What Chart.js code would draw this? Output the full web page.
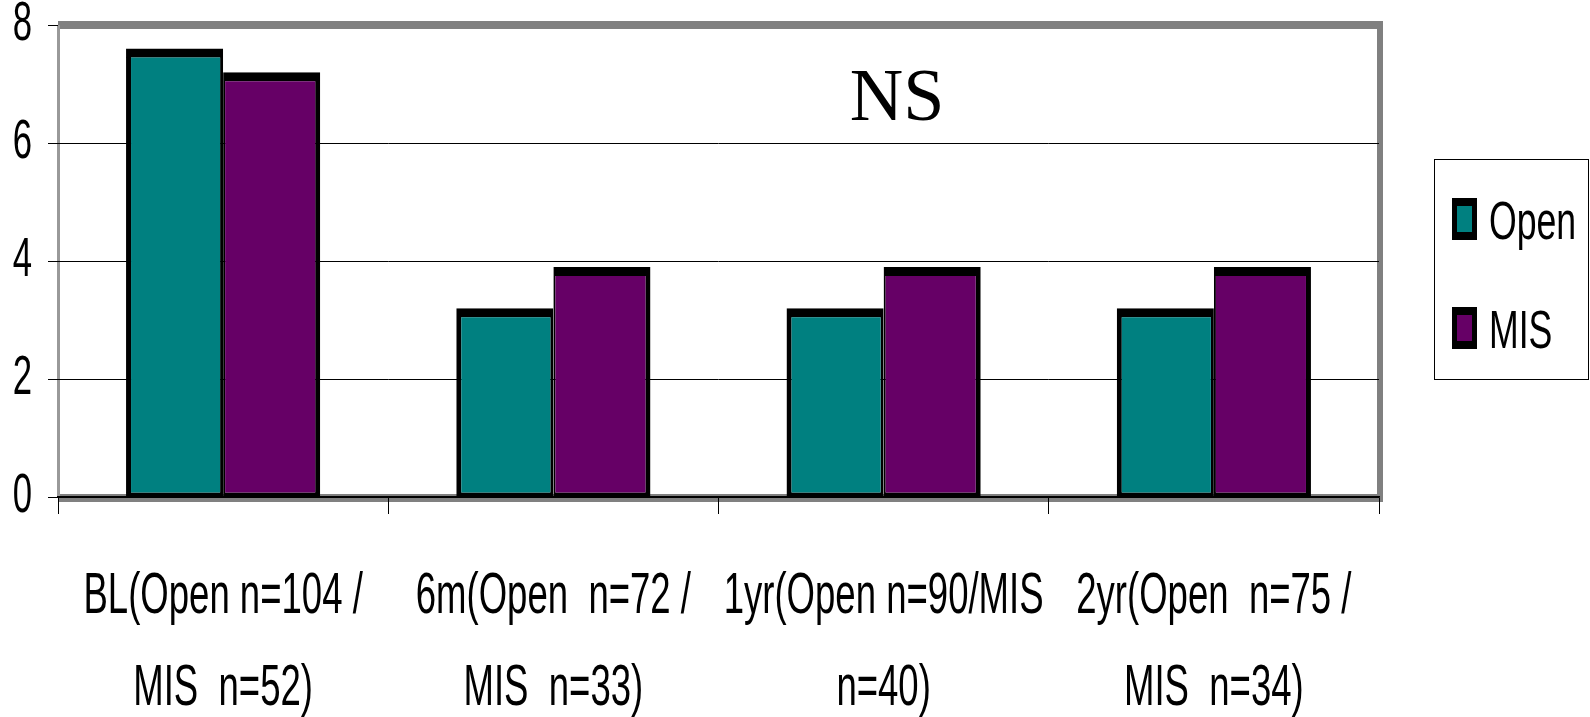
<!DOCTYPE html>
<html><head><meta charset="utf-8">
<script src="https://cdn.jsdelivr.net/npm/chart.js@4.4.1/dist/chart.umd.min.js"></script>
<style>html,body{margin:0;padding:0;background:#fff;overflow:hidden}#wrap{width:1590px;height:717px}</style>
</head><body><div id="wrap"><canvas id="c" width="1590" height="717"></canvas></div>
<script>
const categories = [
  ["BL(Open n=104 /", "MIS  n=52)"],
  ["6m(Open  n=72 /", "MIS  n=33)"],
  ["1yr(Open n=90/MIS", "n=40)"],
  ["2yr(Open  n=75 /", "MIS  n=34)"]
];
const seriesNames = ["Open", "MIS"];
const openValues = [7.6, 3.2, 3.2, 3.2];
const misValues = [7.2, 3.9, 3.9, 3.9];
const yTicks = [0, 2, 4, 6, 8];
const annotationText = "NS";

// condensed text rendering (reference uses a narrow typeface)
const P = CanvasRenderingContext2D.prototype;
const oFill = P.fillText, oMeas = P.measureText;
function sxOf(ctx){ const f = ctx.font;
  if (f.indexOf('Helvetica') >= 0) return 0.63;
  if (f.indexOf('Arial') >= 0) return 0.62;
  if (f.indexOf('FreeSans') >= 0) return 0.66;
  return 1; }
P.fillText = function(t, x, y, mw){
  const s = sxOf(this);
  if (s === 1) return oFill.apply(this, arguments);
  this.save(); this.translate(x, y); this.scale(s, 1); oFill.call(this, t, 0, 0); this.restore();
};
P.measureText = function(t){
  const m = oMeas.call(this, t); const s = sxOf(this);
  if (s === 1) return m;
  return {width: m.width * s,
    actualBoundingBoxAscent: m.actualBoundingBoxAscent, actualBoundingBoxDescent: m.actualBoundingBoxDescent,
    actualBoundingBoxLeft: m.actualBoundingBoxLeft * s, actualBoundingBoxRight: m.actualBoundingBoxRight * s,
    fontBoundingBoxAscent: m.fontBoundingBoxAscent, fontBoundingBoxDescent: m.fontBoundingBoxDescent};
};

const framePlugin = {
  id: 'frame',
  beforeDraw(chart){
    const {ctx, chartArea: a} = chart;
    ctx.save();
    ctx.fillStyle = '#808080';
    ctx.fillRect(a.left, a.top - 4, a.right - a.left + 4, 8);
    ctx.fillRect(a.right - 2, a.top - 4, 6, a.bottom - a.top + 9);
    ctx.fillRect(a.left, a.bottom - 3, a.right - a.left + 4, 8);
    ctx.fillStyle = '#999999';
    ctx.fillRect(a.left - 1, a.top, 3, a.bottom - a.top);
    ctx.restore();
  }
};
const nsPlugin = {
  id: 'ns',
  afterDraw(chart){
    const {ctx} = chart;
    ctx.save();
    ctx.font = "74px 'Liberation Serif', 'Times New Roman', serif";
    ctx.fillStyle = '#000';
    ctx.textAlign = 'center'; ctx.textBaseline = 'alphabetic';
    ctx.fillText(annotationText, 897, 120);
    ctx.restore();
  }
};
const legendPlugin = {
  id: 'boxlegend',
  afterDraw(chart){
    const {ctx} = chart;
    ctx.save();
    ctx.strokeStyle = '#000'; ctx.lineWidth = 1;
    ctx.strokeRect(1434.5, 159.5, 154, 220);
    const ys = [219, 328];
    chart.data.datasets.forEach((ds, i) => {
      const cy = ys[i];
      ctx.fillStyle = '#000';
      ctx.fillRect(1452, cy - 21, 25, 42);
      ctx.fillStyle = ds.backgroundColor;
      ctx.fillRect(1457, cy - 13, 15, 26);
      ctx.fillStyle = '#000';
      ctx.font = "54px 'Liberation Sans', FreeSans";
      ctx.textAlign = 'left'; ctx.textBaseline = 'middle';
      ctx.fillText(ds.label, 1489, cy + 5);
    });
    ctx.restore();
  }
};

new Chart(document.getElementById('c'), {
  type: 'bar',
  data: {
    labels: categories,
    datasets: [
      {label: seriesNames[0], data: openValues, backgroundColor: '#008080', borderColor: '#000',
       borderWidth: {top: 9, left: 5, right: 3, bottom: 4}, borderSkipped: false},
      {label: seriesNames[1], data: misValues, backgroundColor: '#660066', borderColor: '#000',
       borderWidth: {top: 9, left: 2, right: 5, bottom: 4}, borderSkipped: false}
    ]
  },
  options: {
    responsive: false, animation: false, devicePixelRatio: 1,
    layout: {padding: {top: 25, right: 211, left: 0, bottom: 0}},
    datasets: {bar: {categoryPercentage: 0.588, barPercentage: 1.0}},
    plugins: {legend: {display: false}, tooltip: {enabled: false}},
    scales: {
      x: {
        offset: true,
        grid: {drawOnChartArea: false, drawTicks: true, tickLength: 17, color: '#000', tickColor: '#000', offset: true},
        border: {display: true, color: '#000', width: 1.5},
        ticks: {color: '#000', autoSkip: false, maxRotation: 0, minRotation: 0, padding: 37,
          font: {family: "'Liberation Sans', Helvetica", size: 58, lineHeight: 1.586}},
        afterFit(s){ s.height = 220; }
      },
      y: {
        min: 0, max: 8,
        afterBuildTicks(s){ s.ticks = yTicks.map(v => ({value: v})); },
        grid: {color: (c) => (c.tick && c.tick.value === 8) ? 'rgba(0,0,0,0)' : '#000', tickColor: '#000', tickLength: 10, lineWidth: 1},
        border: {display: false},
        ticks: {color: '#000', padding: 16, font: {family: "'Liberation Sans', Arial", size: 56, lineHeight: 0.15}},
        afterFit(s){ s.width = 58; }
      }
    }
  },
  plugins: [framePlugin, nsPlugin, legendPlugin]
});
</script>
</body></html>
